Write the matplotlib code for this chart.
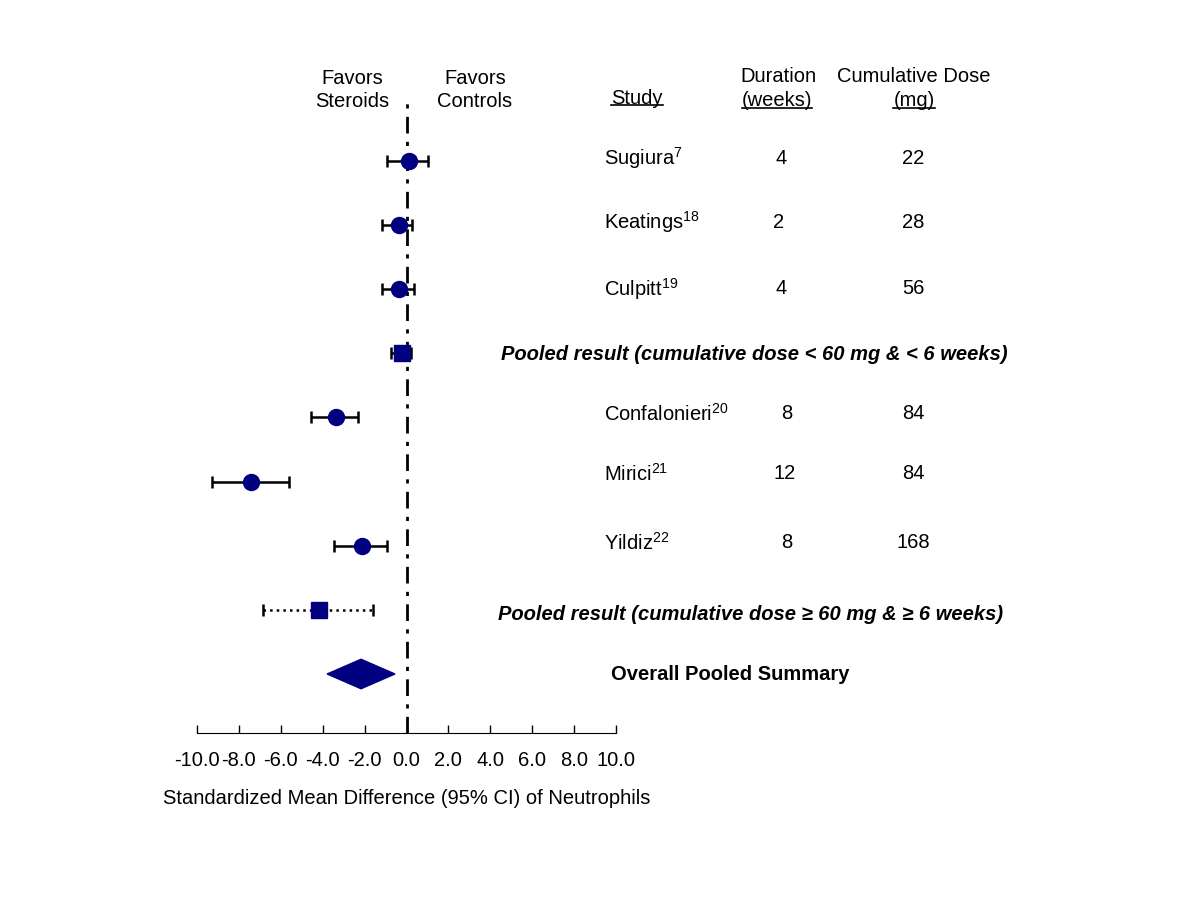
import numpy as np
import matplotlib.pyplot as plt
from matplotlib.patches import Polygon
from matplotlib.lines import Line2D

plt.rcParams['font.family'] = ['Liberation Sans', 'DejaVu Sans']
plt.rcParams['mathtext.fontset'] = 'custom'
plt.rcParams['mathtext.rm'] = 'Liberation Sans'
plt.rcParams['mathtext.it'] = 'Liberation Sans:italic'
plt.rcParams['mathtext.bf'] = 'Liberation Sans:bold'

# studies (est, lower, upper)
studies = ['Sugiura', 'Keatings', 'Culpitt', 'Confalonieri', 'Mirici', 'Yildiz']
refs = ['7', '18', '19', '20', '21', '22']
duration = ['4', '2', '4', '8', '12', '8']
dose = ['22', '28', '56', '84', '84', '168']
study_rows = [0, 1, 2, 4, 5, 6]
est = [0.12, -0.36, -0.36, -3.37, -7.42, -2.13]
lo = [-0.93, -1.17, -1.17, -4.56, -9.28, -3.47]
hi = [1.05, 0.26, 0.36, -2.32, -5.60, -0.93]

pooled_rows = [3, 7]
pooled_est = [-0.2, -4.18]
pooled_lo = [-0.74, -6.85]
pooled_hi = [0.21, -1.60]
pooled_labels = ['Pooled result (cumulative dose < 60 mg & < 6 weeks)',
                 'Pooled result (cumulative dose \u2265 60 mg & \u2265 6 weeks)']

overall_row = 8
overall = (-2.17, -3.79, -0.55)

navy = '#000080'
FS = 14.5

fig = plt.figure(figsize=(12, 9), dpi=100)
ax = fig.add_axes([197/1200, 1 - 733/900, 419/1200, 633/900])

# single studies
for r, e, l, h in zip(study_rows, est, lo, hi):
    ax.errorbar(e, r, xerr=[[e - l], [h - e]], fmt='o', color='black',
                mfc=navy, mec=navy, ms=11.5, elinewidth=1.8, capsize=4.5,
                capthick=1.8, zorder=3)

# pooled results
for i, (r, e, l, h) in enumerate(zip(pooled_rows, pooled_est, pooled_lo, pooled_hi)):
    eb = ax.errorbar(e, r, xerr=[[e - l], [h - e]], fmt='s', color='black',
                     mfc=navy, mec=navy, ms=11, elinewidth=1.8, capsize=4.5,
                     capthick=1.8, zorder=3)
    if i == 1:
        eb[2][0].set_linestyle(':')

# overall diamond
oe, ol, oh = overall
dh = 0.23
ax.add_patch(Polygon([(ol, overall_row), (oe, overall_row - dh),
                      (oh, overall_row), (oe, overall_row + dh)],
                     closed=True, color=navy, zorder=3))

ax.axvline(0, color='black', lw=2, ls=(0, (6, 3, 1.5, 3)), zorder=1)

ax.set_xlim(-10, 10)
ax.set_ylim(8.92, -0.95)
ax.set_xticks(np.arange(-10, 11, 2))
ax.set_xticklabels(['%.1f' % v for v in np.arange(-10, 11, 2)], fontsize=FS)
ax.tick_params(axis='x', direction='in', length=6, width=1, pad=13)
ax.set_yticks([])
for s in ['left', 'right', 'top']:
    ax.spines[s].set_visible(False)
ax.set_xlabel('Standardized Mean Difference (95% CI) of Neutrophils',
              fontsize=FS, labelpad=14)

def fy(px):
    return 1 - px / 900

def fx(px):
    return px / 1200

# headers
fig.text(fx(352), fy(90), 'Favors\nSteroids', ha='center', va='center', fontsize=FS, linespacing=1.25)
fig.text(fx(475), fy(90), 'Favors\nControls', ha='center', va='center', fontsize=FS, linespacing=1.25)
t_study = fig.text(fx(637), fy(98), 'Study', ha='center', va='center', fontsize=FS)
fig.text(fx(778), fy(77), 'Duration', ha='center', va='center', fontsize=FS)
t_weeks = fig.text(fx(777), fy(101), '(weeks)', ha='center', va='center', fontsize=FS)
fig.text(fx(914), fy(77), 'Cumulative Dose', ha='center', va='center', fontsize=FS)
t_mg = fig.text(fx(914), fy(101), '(mg)', ha='center', va='center', fontsize=FS)

# study table
name_y = [158, 222, 289, 414, 474, 543]
dur_x = [781, 779, 781, 787, 785, 787]
for name, ref, d, c, y, dx in zip(studies, refs, duration, dose, name_y, dur_x):
    fig.text(fx(604), fy(y), name + '$^{' + ref + '}$', ha='left', va='center', fontsize=FS)
    fig.text(fx(dx), fy(y), d, ha='center', va='center', fontsize=FS)
    fig.text(fx(913), fy(y), c, ha='center', va='center', fontsize=FS)

fig.text(fx(754), fy(355), pooled_labels[0], ha='center', va='center',
         fontsize=FS, fontweight='bold', fontstyle='italic')
fig.text(fx(751), fy(615), pooled_labels[1], ha='center', va='center',
         fontsize=FS, fontweight='bold', fontstyle='italic')
fig.text(fx(730), fy(674), 'Overall Pooled Summary', ha='center', va='center',
         fontsize=FS, fontweight='bold')

# underlines
fig.canvas.draw()
r = fig.canvas.get_renderer()
for t in [t_study, t_weeks, t_mg]:
    bb = t.get_window_extent(renderer=r).transformed(fig.transFigure.inverted())
    fig.add_artist(Line2D([bb.x0, bb.x1], [bb.y0 + 0.003, bb.y0 + 0.003],
                          transform=fig.transFigure, color='black', lw=1.2))

fig.savefig('out.png', dpi=100)
